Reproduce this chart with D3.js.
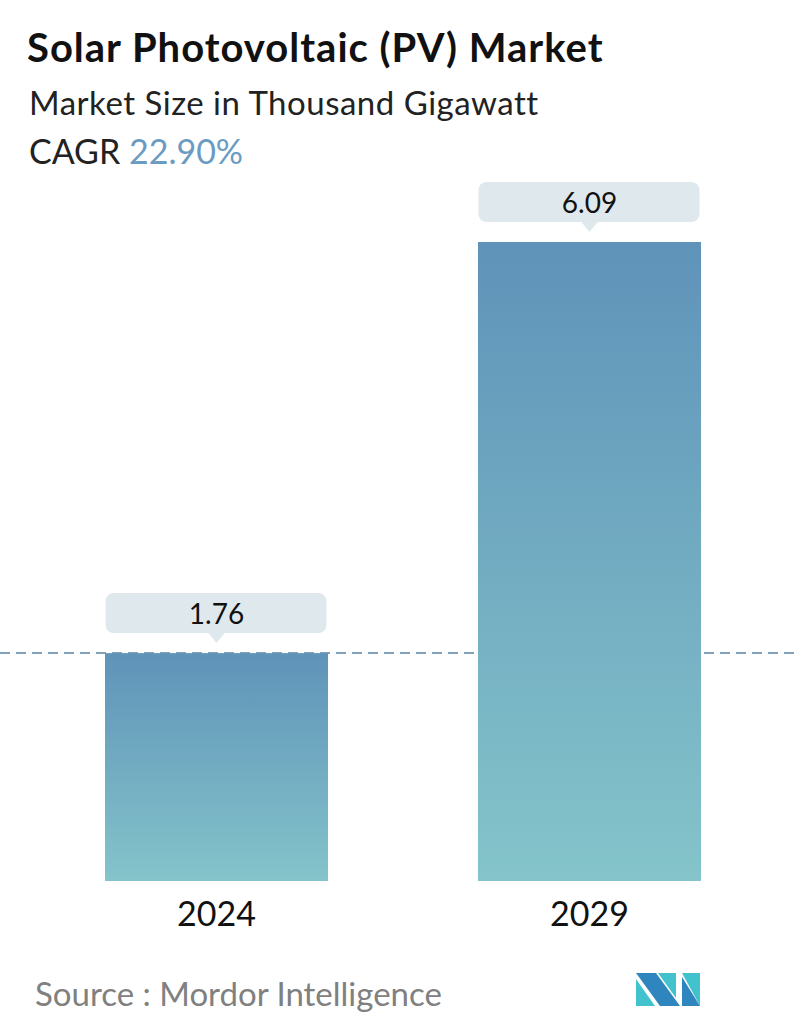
<!DOCTYPE html>
<html>
<head>
<meta charset="utf-8">
<script src="https://cdn.jsdelivr.net/npm/d3@7"></script>
<style>
body { margin: 0; background: #fff; }
svg { display: block; font-family: Lato, "Open Sans", sans-serif; }
</style>
</head>
<body>
<svg id="chart" width="796" height="1034"></svg>
<script>
// chart data
var years = ["2024", "2029"];
var values = [1.76, 6.09];
var valueLabels = ["1.76", "6.09"];
var cagr = "22.90%";

var svg = d3.select("#chart");

// titles
svg.append("text")
    .attr("x", 27).attr("y", 62)
    .attr("font-size", 40).attr("font-weight", 700)
    .attr("letter-spacing", 1)
    .attr("fill", "#111")
    .text("Solar Photovoltaic (PV) Market");

svg.append("text")
    .attr("x", 29).attr("y", 115)
    .attr("font-size", 33).attr("fill", "#222")
    .attr("letter-spacing", 0.5)
    .text("Market Size in Thousand Gigawatt");

var cagrText = svg.append("text")
    .attr("x", 29).attr("y", 164)
    .attr("font-size", 34).attr("fill", "#222");
cagrText.append("tspan").text("CAGR ");
cagrText.append("tspan").attr("fill", "#6a9bc2").text(cagr);

// gradient for bars
var grad = svg.append("defs").append("linearGradient")
    .attr("id", "barGrad")
    .attr("x1", 0).attr("y1", 0).attr("x2", 0).attr("y2", 1);
grad.append("stop").attr("offset", "0%").attr("stop-color", "#5f93b9");
grad.append("stop").attr("offset", "100%").attr("stop-color", "#84c4ca");

// scales (bars in the original are not drawn from zero)
var x = d3.scaleBand()
    .domain(years)
    .range([105, 701])
    .paddingInner(0.402)
    .paddingOuter(0);

var y = d3.scaleLinear()
    .domain([-0.64, 6.09])
    .range([881, 242]);

// dashed reference line at first bar value
svg.append("line")
    .attr("x1", 0).attr("x2", 796)
    .attr("y1", y(values[0])).attr("y2", y(values[0]))
    .attr("stroke", "#5b82a3")
    .attr("stroke-width", 1.5)
    .attr("stroke-dasharray", "10,6");

// bars
svg.selectAll("rect.bar")
    .data(values)
    .enter()
    .append("rect")
    .attr("class", "bar")
    .attr("x", function(d, i) { return x(years[i]); })
    .attr("y", function(d) { return y(d); })
    .attr("width", x.bandwidth())
    .attr("height", function(d) { return y.range()[0] - y(d); })
    .attr("fill", "url(#barGrad)");

// value callouts
var callouts = svg.selectAll("g.callout")
    .data(values)
    .enter()
    .append("g")
    .attr("class", "callout")
    .attr("transform", function(d, i) {
        return "translate(" + (x(years[i]) + x.bandwidth() / 2) + "," + y(d) + ")";
    });

callouts.append("rect")
    .attr("x", -111).attr("y", -60)
    .attr("width", 221).attr("height", 40)
    .attr("rx", 8)
    .attr("fill", "#dfe9ed");

callouts.append("path")
    .attr("d", "M-9,-21 L0,-10 L9,-21 Z")
    .attr("fill", "#dfe9ed");

callouts.append("text")
    .attr("text-anchor", "middle")
    .attr("y", -29)
    .attr("font-size", 28)
    .attr("fill", "#111")
    .text(function(d, i) { return valueLabels[i]; });

// x axis labels
svg.selectAll("text.year")
    .data(years)
    .enter()
    .append("text")
    .attr("class", "year")
    .attr("x", function(d) { return x(d) + x.bandwidth() / 2; })
    .attr("y", 926)
    .attr("text-anchor", "middle")
    .attr("font-size", 34)
    .attr("fill", "#111")
    .text(function(d) { return d; });

// source
svg.append("text")
    .attr("x", 35).attr("y", 1006)
    .attr("font-size", 33)
    .attr("fill", "#808080")
    .text("Source :  Mordor Intelligence");

// logo
var logo = svg.append("g").attr("transform", "translate(636,973)");
logo.append("polygon").attr("points", "0,0 20,0 44,33 24,33").attr("fill", "#2f86be");
logo.append("polygon").attr("points", "0,6 0,33 19,33").attr("fill", "#42c2cc");
logo.append("polygon").attr("points", "22,0 40,0 40,25").attr("fill", "#42c2cc");
logo.append("polygon").attr("points", "46,0 64,0 64,33").attr("fill", "#42c2cc");
logo.append("polygon").attr("points", "46,4 64,33 46,33").attr("fill", "#2f86be");
</script>
</body>
</html>
